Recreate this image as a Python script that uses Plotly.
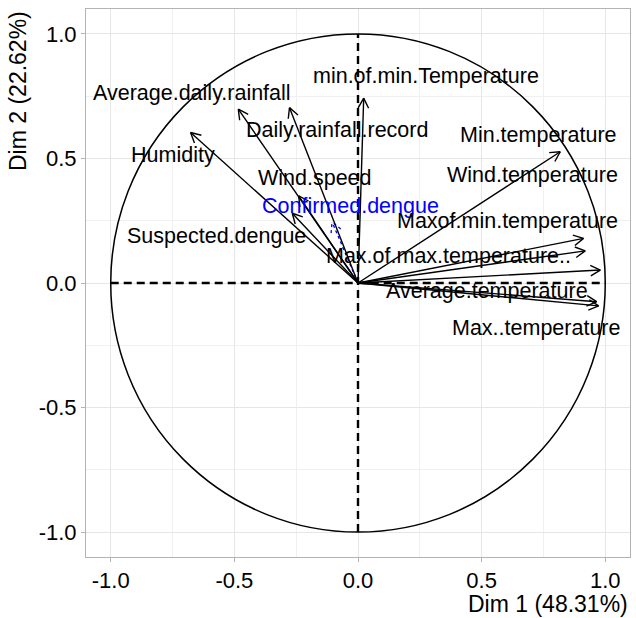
import math
import plotly.graph_objects as go

# Variable names
variables = [
    "Humidity", "Average.daily.rainfall", "Daily.rainfall.record", "Wind.speed",
    "Suspected.dengue", "Confirmed.dengue", "min.of.min.Temperature",
    "Min.temperature", "Maxof.min.temperature", "Max.of.max.temperature..",
    "Wind.temperature", "Average.temperature", "Max..temperature",
]
# Coordinates on Dim 1 and Dim 2 (arrow tips)
dim1 = [-0.677, -0.484, -0.277, -0.240, -0.266, -0.105, 0.023,
        0.818, 0.912, 0.919, 0.980, 0.965, 0.973]
dim2 = [0.604, 0.698, 0.704, 0.350, 0.280, 0.245, 0.742,
        0.527, 0.179, 0.129, 0.052, -0.075, -0.092]
# Repelled label positions
label_x = [-0.747, -0.670, -0.083, -0.172, -0.574, -0.030, 0.275,
           0.729, 0.606, 0.364, 0.707, 0.523, 0.719]
label_y = [0.514, 0.763, 0.614, 0.422, 0.189, 0.309, 0.831,
           0.594, 0.249, 0.108, 0.434, -0.032, -0.181]
highlight = ["Confirmed.dengue"]

x_ticks = [-1.0, -0.5, 0.0, 0.5, 1.0]
y_ticks = [-1.0, -0.5, 0.0, 0.5, 1.0]
x_title = "Dim 1 (48.31%)"
y_title = "Dim 2 (22.62%)"

FONT = "Liberation Sans, Arial, sans-serif"
HEAD = 0.045
ANG = math.radians(28)

fig = go.Figure()

def arrow_path(xs, ys):
    px, py = [], []
    for x, y in zip(xs, ys):
        th = math.atan2(y, x)
        px += [0, x, None]
        py += [0, y, None]
        for s in (1, -1):
            hx = x - HEAD * math.cos(th + s * ANG)
            hy = y - HEAD * math.sin(th + s * ANG)
            px += [hx, x, None]
            py += [hy, y, None]
    return px, py

black_x = [x for v, x in zip(variables, dim1) if v not in highlight]
black_y = [y for v, y in zip(variables, dim2) if v not in highlight]
blue_x = [x for v, x in zip(variables, dim1) if v in highlight]
blue_y = [y for v, y in zip(variables, dim2) if v in highlight]

# unit circle and dashed axes
fig.add_shape(type="circle", x0=-1, y0=-1, x1=1, y1=1, xref="x", yref="y",
              line=dict(color="black", width=1.5), layer="above")
fig.add_shape(type="line", x0=-1, x1=1, y0=0, y1=0, xref="x", yref="y",
              line=dict(color="black", width=2.4, dash="8px,5px"), layer="above")
fig.add_shape(type="line", x0=0, x1=0, y0=-1, y1=1, xref="x", yref="y",
              line=dict(color="black", width=2.4, dash="8px,5px"), layer="above")

bx, by = arrow_path(blue_x, blue_y)
fig.add_trace(go.Scatter(x=bx, y=by, mode="lines",
                         line=dict(color="#0000FF", width=1.3, dash="3px,3px"),
                         hoverinfo="skip", showlegend=False))
kx, ky = arrow_path(black_x, black_y)
fig.add_trace(go.Scatter(x=kx, y=ky, mode="lines",
                         line=dict(color="black", width=1.4),
                         hoverinfo="skip", showlegend=False))

for v, lx, ly in zip(variables, label_x, label_y):
    fig.add_annotation(x=lx, y=ly, xref="x", yref="y", text=v, showarrow=False,
                       xanchor="center", yanchor="middle",
                       font=dict(family=FONT, size=21.5,
                                 color="#0000FF" if v in highlight else "black"))

fig.add_annotation(x=1, y=-0.0858, xref="paper", yref="paper", text=x_title,
                   showarrow=False, xanchor="right", yanchor="middle",
                   font=dict(family=FONT, size=23, color="black"))
fig.add_annotation(x=-0.125, y=1, xref="paper", yref="paper", text=y_title,
                   showarrow=False, xanchor="center", yanchor="top", textangle=-90,
                   font=dict(family=FONT, size=23, color="black"))

axis_common = dict(
    range=[-1.1, 1.1], showgrid=True, gridcolor="#e6e6e6", gridwidth=1,
    minor=dict(showgrid=True, gridcolor="#f0f0f0", gridwidth=1, dtick=0.25),
    zeroline=False, showline=True, mirror=True, linecolor="#b3b3b3", linewidth=1,
    ticks="outside", ticklen=4, tickcolor="#b3b3b3",
    tickfont=dict(family=FONT, size=22, color="black"),
)
fig.update_layout(
    width=636, height=618,
    margin=dict(l=86, r=6, t=9, b=61),
    paper_bgcolor="white", plot_bgcolor="white",
    xaxis=dict(**axis_common, tickvals=x_ticks,
               ticktext=[f"{t:.1f}" for t in x_ticks]),
    yaxis=dict(**axis_common, tickvals=y_ticks,
               ticktext=[f"{t:.1f}" for t in y_ticks]),
    showlegend=False,
)

fig.write_html("out.html")
